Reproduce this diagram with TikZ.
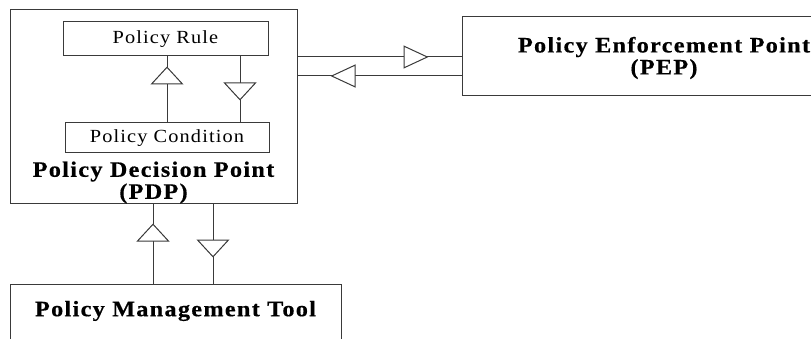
\documentclass[tikz,border=0pt]{standalone}
\usepackage{fontspec}
\setmainfont{Liberation Serif}
\newfontfamily\boldlbl{Liberation Serif}[FakeStretch=1.1,LetterSpace=6,BoldFeatures={FakeBold=0.5}]
\newfontfamily\plainlbl{Liberation Serif}[FakeStretch=1.1,LetterSpace=6]
\usetikzlibrary{arrows.meta,decorations.markings}
\definecolor{linecol}{HTML}{3A3A3A}
\tikzset{
  box/.style={draw=linecol, line width=1pt, rectangle, inner sep=0pt},
  bigtext/.style={font=\boldlbl\bfseries\fontsize{22}{22}\selectfont, align=center, text=black},
  smalltext/.style={font=\plainlbl\fontsize{18.5}{20}\selectfont, text=black},
  hflow/.style={draw=linecol, line width=1pt, postaction={decorate},
    decoration={markings, mark=at position #1 with
      {\arrow{Triangle[length=25pt,width=23pt,fill=white,line width=1pt]}}}},
  vflow/.style={draw=linecol, line width=1pt, postaction={decorate},
    decoration={markings, mark=at position #1 with
      {\arrow{Triangle[length=18pt,width=33pt,fill=white,line width=1pt]}}}}
}
\begin{document}
\begin{tikzpicture}[x=1pt,y=-1pt]
\useasboundingbox (0,0) rectangle (811,339);
\begin{scope}
\clip (0,0) rectangle (811,339);

% Policy Decision Point and its inner blocks
\node[box, minimum width=287pt, minimum height=194pt] (pdp) at (153.5,107) {};
\node[bigtext] (pdplbl) at (153.5,182.5) {Policy Decision Point\\(PDP)};
\node[box, smalltext, minimum width=205pt, minimum height=34pt] (rule) at (165.5,39) {Policy Rule};
\node[box, smalltext, minimum width=204pt, minimum height=30pt] (cond) at (167,138) {Policy Condition};

% Policy Enforcement Point (runs past the right edge)
\node[box, minimum width=404pt, minimum height=79pt] (pep) at (664,56.5) {};
\node[bigtext] (peplbl) at (664,58) {Policy Enforcement Point\\(PEP)};

% Policy Management Tool (runs past the bottom edge)
\node[box, minimum width=331pt, minimum height=61pt] (mgmt) at (175.5,314.5) {};
\node[bigtext] (mgmtlbl) at (175.5,311) {Policy Management Tool};

% vertical positions / columns of the connectors
\coordinate (xup) at (167,0);
\coordinate (xdn) at (240,0);
\coordinate (yout) at (0,57);
\coordinate (yin) at (0,76);
\coordinate (xmup) at (153,0);
\coordinate (xmdn) at (213,0);

% condition <-> rule
\draw[vflow=56pt] (cond.north -| xup) -- (rule.south -| xup);
\draw[vflow=44pt] (rule.south -| xdn) -- (cond.north -| xdn);

% PDP <-> PEP
\draw[hflow=131pt] (pdp.east |- yout) -- (pep.west |- yout);
\draw[hflow=131pt] (pep.west |- yin) -- (pdp.east |- yin);

% management tool <-> PDP
\draw[vflow=60pt] (mgmt.north -| xmup) -- (pdp.south -| xmup);
\draw[vflow=53pt] (pdp.south -| xmdn) -- (mgmt.north -| xmdn);
\end{scope}
\end{tikzpicture}
\end{document}
